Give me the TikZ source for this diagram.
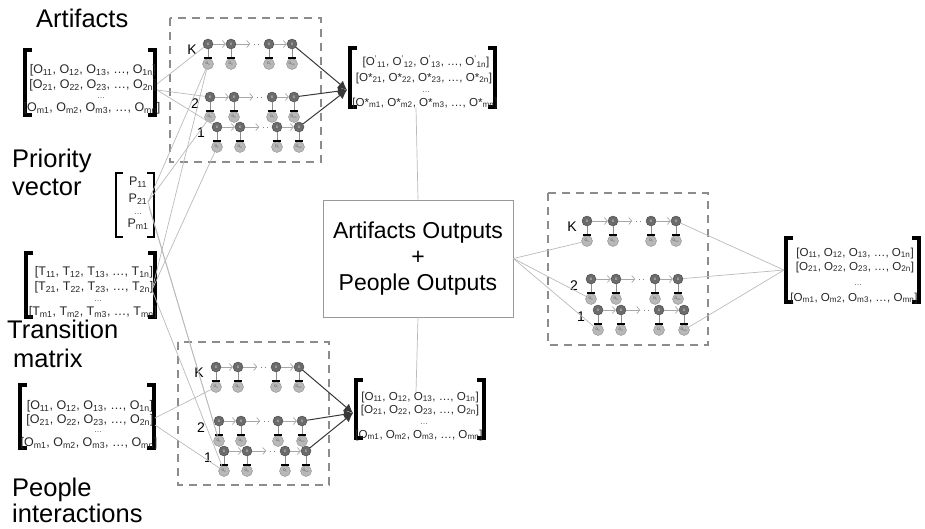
\documentclass[tikz,border=0pt]{standalone}
\usepackage{fontspec}
\setmainfont{Liberation Sans}
\usetikzlibrary{arrows.meta}
\tikzset{
 conn/.style={draw=black!27, line width=0.7pt},
 dbox/.style={draw=black!45, dash pattern=on 8pt off 6pt, line width=1.4pt},
 st/.style={circle, fill=black!58, draw=black!72, line width=0.4pt, minimum size=10pt, inner sep=0pt, font=\fontsize{3.5}{4}\selectfont, text=white},
 em/.style={circle, fill=black!28, draw=black!45, line width=0.4pt, minimum size=11pt, inner sep=0pt, font=\fontsize{3.5}{4}\selectfont, text=black!70},
 tr/.style={draw=black!35, line width=0.7pt, -{Straight Barb[length=3pt,width=7pt]}},
 bigarr/.style={draw=black!78, line width=1pt, -{Latex[length=9pt,width=9pt]}},
 ttl/.style={font=\fontsize{25.5}{28}\selectfont, inner sep=0pt, anchor=base west},
 mrow/.style={font=\fontsize{12.5}{14}\selectfont, inner sep=0pt, text=black!85},
 srow/.style={font=\fontsize{11.6}{13}\selectfont, inner sep=0pt, text=black!85},
 mdots/.style={font=\fontsize{8}{9}\selectfont, inner sep=0pt, text=black!70},
 lbl/.style={font=\fontsize{14}{16}\selectfont, inner sep=0pt},
 thickbr/.style={line width=3.2pt, line join=miter},
 thinbr/.style={line width=1.6pt, line join=miter},
}
\newcommand{\hmmchain}[6]{%
 \node[st] (#1s1) at (#2,#6) {X};
 \node[st] (#1s2) at (#3,#6) {X};
 \node[st] (#1s3) at (#4,#6) {X};
 \node[st] (#1s4) at (#5,#6) {X};
 \node[em] (#1e1) at (#2,#6+20) {O\textsubscript{1}};
 \node[em] (#1e2) at (#3,#6+20) {O\textsubscript{2}};
 \node[em] (#1e3) at (#4,#6+20) {O\textsubscript{t}};
 \node[em] (#1e4) at (#5,#6+20) {O\textsubscript{t+1}};
 \foreach \k in {1,2,3,4}{%
  \draw[black!45, line width=0.6pt] (#1s\k) -- (#1e\k);
  \draw[line width=1.4pt] ([xshift=-4pt,yshift=0.4pt]#1e\k.north) -- ([xshift=4pt,yshift=0.4pt]#1e\k.north);
 }
 \draw[tr] (#1s1) -- (#1s2);
 \draw[tr] (#1s2.east) -- ++(14,0) coordinate (#1m);
 \draw[black!50, line width=0.9pt, dash pattern=on 1pt off 3pt] ([xshift=4pt]#1m) -- ([xshift=-3pt]#1s3.west);
 \draw[tr] (#1s3) -- (#1s4);
}
\newcommand{\lbr}[4]{\draw[#4] (#1+7,#2) -- (#1,#2) -- (#1,#3) -- (#1+7,#3);}
\newcommand{\rbr}[4]{\draw[#4] (#1-7,#2) -- (#1,#2) -- (#1,#3) -- (#1-7,#3);}
\begin{document}
\begin{tikzpicture}[x=1pt,y=-1pt]
\useasboundingbox (0,0) rectangle (925,528);

% titles
\node[ttl] (tArt) at (36,27) {Artifacts};
\node[ttl] (tPri) at (12,167) {Priority};
\node[ttl] (tVec) at (12,195) {vector};
\node[ttl] (tTra) at (7,338) {Transition};
\node[ttl] (tMat) at (13,367) {matrix};
\node[ttl] (tPeo) at (12,496) {People};
\node[ttl] (tInt) at (12,522) {interactions};

% dashed boxes
\draw[dbox] (170,18) rectangle (321,162);
\draw[dbox] (178,342) rectangle (329,485);
\draw[dbox] (548,193) rectangle (708,345);

% Artifacts matrix
\lbr{25}{50}{115}{thickbr}
\rbr{155}{50}{115}{thickbr}
\node[mrow] (a1) at (93,70) {[O\textsubscript{11}, O\textsubscript{12}, O\textsubscript{13}, …, O\textsubscript{1n}]};
\node[mrow] (a2) at (93,85) {[O\textsubscript{21}, O\textsubscript{22}, O\textsubscript{23}, …, O\textsubscript{2n}]};
\node[mdots] (a3) at (101,98) {…};
\node[mrow] (a4) at (92,108) {[O\textsubscript{m1}, O\textsubscript{m2}, O\textsubscript{m3}, …, O\textsubscript{mn}]};

% Priority vector
\lbr{116}{173}{237}{thinbr}
\rbr{154}{173}{237}{thinbr}
\node[mrow] (p1) at (138,182) {P\textsubscript{11}};
\node[mrow] (p2) at (138,199) {P\textsubscript{21}};
\node[mdots] (p3) at (138,214) {…};
\node[mrow] (p4) at (138,224) {P\textsubscript{m1}};

% Transition matrix
\lbr{26}{253}{317}{thickbr}
\rbr{155}{253}{317}{thickbr}
\node[mrow] (m1) at (94,272) {[T\textsubscript{11}, T\textsubscript{12}, T\textsubscript{13}, …, T\textsubscript{1n}]};
\node[mrow] (m2) at (94,287) {[T\textsubscript{21}, T\textsubscript{22}, T\textsubscript{23}, …, T\textsubscript{2n}]};
\node[mdots] (m3) at (98,301) {…};
\node[mrow] (m4) at (93,312) {[T\textsubscript{m1}, T\textsubscript{m2}, T\textsubscript{m3}, …, T\textsubscript{mn}]};

% People interactions matrix
\lbr{20}{385}{448}{thickbr}
\rbr{154}{385}{448}{thickbr}
\node[mrow] (h1) at (90,406) {[O\textsubscript{11}, O\textsubscript{12}, O\textsubscript{13}, …, O\textsubscript{1n}]};
\node[mrow] (h2) at (90,420) {[O\textsubscript{21}, O\textsubscript{22}, O\textsubscript{23}, …, O\textsubscript{2n}]};
\node[mdots] (h3) at (98,432) {…};
\node[mrow] (h4) at (89,443) {[O\textsubscript{m1}, O\textsubscript{m2}, O\textsubscript{m3}, …, O\textsubscript{mn}]};

% top-right matrix (artifacts outputs)
\lbr{350}{48}{107}{thickbr}
\rbr{495}{48}{107}{thickbr}
\node[srow] (o1) at (426,62) {[O\textsuperscript{'}\textsubscript{11}, O\textsuperscript{'}\textsubscript{12}, O\textsuperscript{'}\textsubscript{13}, …, O\textsuperscript{'}\textsubscript{1n}]};
\node[srow] (o2) at (424,78) {[O*\textsubscript{21}, O*\textsubscript{22}, O*\textsubscript{23}, …, O*\textsubscript{2n}]};
\node[mdots] (o3) at (426,92) {…};
\node[srow] (o4) at (425,103) {[O*\textsubscript{m1}, O*\textsubscript{m2}, O*\textsubscript{m3}, …, O*\textsubscript{mn}]};

% bottom-middle matrix (people outputs)
\lbr{356}{380}{438}{thickbr}
\rbr{484}{380}{438}{thickbr}
\node[srow] (q1) at (420,397) {[O\textsubscript{11}, O\textsubscript{12}, O\textsubscript{13}, …, O\textsubscript{1n}]};
\node[srow] (q2) at (420,410) {[O\textsubscript{21}, O\textsubscript{22}, O\textsubscript{23}, …, O\textsubscript{2n}]};
\node[mdots] (q3) at (424,424) {…};
\node[srow] (q4) at (419,435) {[O\textsubscript{m1}, O\textsubscript{m2}, O\textsubscript{m3}, …, O\textsubscript{mn}]};

% right matrix
\lbr{786}{238}{302}{thickbr}
\rbr{919}{238}{302}{thickbr}
\node[srow] (r1r) at (855,253) {[O\textsubscript{11}, O\textsubscript{12}, O\textsubscript{13}, …, O\textsubscript{1n}]};
\node[srow] (r2r) at (855,267) {[O\textsubscript{21}, O\textsubscript{22}, O\textsubscript{23}, …, O\textsubscript{2n}]};
\node[mdots] (r3r) at (858,285) {…};
\node[srow] (r4r) at (854,298) {[O\textsubscript{m1}, O\textsubscript{m2}, O\textsubscript{m3}, …, O\textsubscript{mn}]};

% middle box
\node[draw=black!40, line width=0.8pt, minimum width=190pt, minimum height=117pt, align=center, inner sep=0pt, font=\fontsize{23}{26}\selectfont] (mid) at (418,258.5) {Artifacts Outputs\\+\\People Outputs};

% chains
\hmmchain{tK}{208}{231}{269}{292}{44}
\hmmchain{tb}{210}{234}{272}{294}{97}
\hmmchain{ta}{217}{240}{277}{299}{127}
\hmmchain{bK}{216}{238}{276}{299}{367}
\hmmchain{bb}{219}{241}{278}{302}{421}
\hmmchain{ba}{224}{247}{285}{306}{451}
\hmmchain{rK}{587}{613}{651}{676}{221}
\hmmchain{rb}{591}{616}{655}{678}{279}
\hmmchain{ra}{598}{621}{659}{684}{310}

% chain labels
\node[lbl] (ltK) at (192,50) {K};
\node[lbl] (ltb) at (195,104) {2};
\node[lbl] (lta) at (201,133) {1};
\node[lbl] (lbK) at (199,373) {K};
\node[lbl] (lbb) at (201,428) {2};
\node[lbl] (lba) at (208,458) {1};
\node[lbl] (lrK) at (572,227) {K};
\node[lbl] (lrb) at (574,286) {2};
\node[lbl] (lra) at (581,317) {1};

% connector end points
\coordinate (Aout1) at (157,84);
\coordinate (Aout2) at (157,90);
\coordinate (Pout) at (148,202);
\coordinate (Pout2) at (149,207);
\coordinate (Tout) at (152,290);
\coordinate (Hout1) at (155,418);
\coordinate (Hout2) at (155,425);
\coordinate (TRin) at (347,90);
\coordinate (TRbot) at (416,108);
\coordinate (BMin) at (353,413);
\coordinate (BMtop) at (416,392);
\coordinate (Rin) at (784,270);

% gray connectors
\draw[conn] (Aout1) -- (tKs1);
\draw[conn] (Aout2) -- (tbs1);
\draw[conn] (Aout2) -- (tas1);
\draw[conn] (Pout) -- (tKe1);
\draw[conn] (Pout) -- (tbe1);
\draw[conn] (Tout) -- (tKe1);
\draw[conn] (Tout) -- (tae1);
\draw[conn] (Pout) -- (bbe1);
\draw[conn] (Pout2) -- (bbe1);
\draw[conn] (Tout) -- (bae1);
\draw[conn] (Hout1) -- (bKe1);
\draw[conn] (Hout2) -- (bae1);
\draw[conn] (mid.east) -- (rKe1);
\draw[conn] (mid.east) -- (rbe1);
\draw[conn] (mid.east) -- (rae1);
\draw[conn] (rKs4) -- (Rin);
\draw[conn] (rbs4) -- (Rin);
\draw[conn] (rae4) -- (Rin);
\draw[conn] (TRbot) -- (mid.north);
\draw[conn] (mid.south) -- (BMtop);

% dark arrows into output matrices
\draw[bigarr] (tKs4) -- (TRin);
\draw[bigarr] (tbs4) -- (TRin);
\draw[bigarr] (tas4) -- (TRin);
\draw[bigarr] (bKs4) -- (BMin);
\draw[bigarr] (bbs4) -- (BMin);
\draw[bigarr] (bas4) -- (BMin);
\end{tikzpicture}
\end{document}
